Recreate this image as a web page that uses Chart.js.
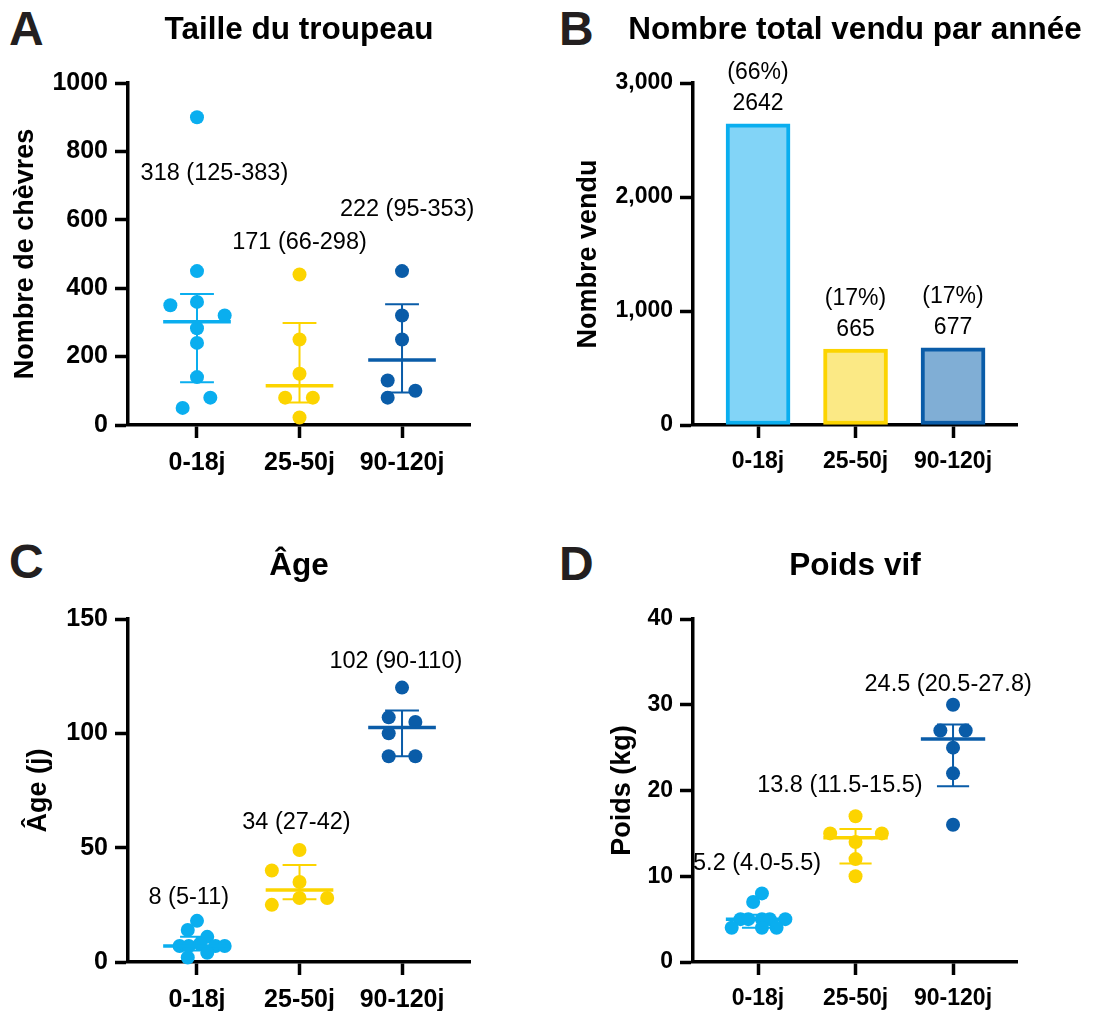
<!DOCTYPE html>
<html>
<head>
<meta charset="utf-8">
<script src="https://cdn.jsdelivr.net/npm/chart.js@4.4.1/dist/chart.umd.min.js"></script>
<style>
  html, body { margin: 0; padding: 0; background: #fff; }
  body { width: 1109px; height: 1011px; overflow: hidden; position: relative; font-family: "Liberation Sans", Arial, Helvetica, sans-serif; }
  .panel { position: absolute; }
  .letter { position: absolute; font-weight: bold; font-size: 48px; line-height: 48px; color: #231f20; }
</style>
</head>
<body>
<div class="letter" style="left:9px;top:5px">A</div>
<div class="letter" style="left:559px;top:5px">B</div>
<div class="letter" style="left:9px;top:538px">C</div>
<div class="letter" style="left:559px;top:540px">D</div>

<canvas id="cA" class="panel" width="500" height="500" style="left:0;top:0"></canvas>
<canvas id="cB" class="panel" width="554" height="500" style="left:555px;top:0"></canvas>
<canvas id="cC" class="panel" width="500" height="491" style="left:0;top:520px"></canvas>
<canvas id="cD" class="panel" width="554" height="491" style="left:555px;top:520px"></canvas>

<script>
// ---------------- DATA ----------------
const categories = ['0-18j', '25-50j', '90-120j'];

// A : Taille du troupeau (nombre de chèvres)
const herdValues = [
  [900, 450, 350, 360, 320, 283, 240, 140, 80, 50],
  [440, 250, 150, 80, 80, 22],
  [450, 320, 250, 130, 100, 80]
];
const herdJitter = [
  [0, 0, -0.26, 0, 0.27, 0, 0, 0, 0.13, -0.14],
  [0, 0, 0, -0.14, 0.13, 0],
  [0, 0, 0, -0.14, 0.13, -0.14]
];
const herdMedian = [302, 115, 190];
const herdLow = [125, 66, 95];
const herdHigh = [383, 298, 353];
const herdLabels = ['318 (125-383)', '171 (66-298)', '222 (95-353)'];
const herdTicks = [0, 200, 400, 600, 800, 1000];

// B : Nombre total vendu par année
const soldValues = [2642, 665, 677];
const soldPercent = ['(66%)', '(17%)', '(17%)'];
const soldTicks = [0, 1000, 2000, 3000];

// C : Âge (j)
const ageValues = [
  [18, 14, 11, 7, 7, 8, 7, 7, 4, 2],
  [49, 40, 35, 28, 28, 25],
  [120, 107, 105, 100, 90, 90]
];
const ageJitter = [
  [0, -0.09, 0.1, -0.17, -0.08, 0.03, 0.18, 0.27, 0.1, -0.09],
  [0, -0.27, 0, 0, 0.27, -0.27],
  [0, -0.13, 0.13, -0.13, -0.13, 0.13]
];
const ageMedian = [7, 31.5, 102.5];
const ageLow = [5, 27.4, 90];
const ageHigh = [11, 42.4, 110];
const ageLabels = ['8 (5-11)', '34 (27-42)', '102 (90-110)'];
const ageTicks = [0, 50, 100, 150];

// D : Poids vif (kg)
const weightValues = [
  [8, 7, 5, 4, 5, 5, 5, 4, 4, 5],
  [17, 15, 15, 14, 12, 10],
  [30, 27, 27, 25, 22, 16]
];
const weightJitter = [
  [0.04, -0.05, -0.18, -0.27, 0.04, 0.12, 0.28, 0.04, 0.19, -0.1],
  [0, -0.26, 0.27, 0, 0, 0],
  [0, -0.13, 0.13, 0, 0, 0]
];
const weightMedian = [5, 14.5, 26];
const weightLow = [4.0, 11.5, 20.5];
const weightHigh = [5.5, 15.5, 27.7];
const weightLabels = ['5.2 (4.0-5.5)', '13.8 (11.5-15.5)', '24.5 (20.5-27.8)'];
const weightTicks = [0, 10, 20, 30, 40];

// ---------------- STYLE / LAYOUT ----------------
const FONT = '"Liberation Sans", Arial, Helvetica, sans-serif';
Chart.defaults.font.family = FONT;
Chart.defaults.color = '#000';
const COLORS = ['#0AAEEF', '#FCD400', '#0A5CA8'];
const BAR_FILL = ['#82D4F7', '#FBE985', '#80AED5'];
const BAR_BORDER = ['#0AAEEF', '#FCD400', '#0A5CA8'];
const MED_HALF = 0.33, CAP_HALF = 0.165;

// label anchor positions (category offset, value) for the summary texts
const herdLabelPos = [[0.17, 734], [0, 535], [0.05, 629]];
const ageLabelPos = [[-0.08, 28], [-0.03, 60.8], [-0.06, 131.6]];
const weightLabelPos = [[-0.01, 11.5], [-0.16, 20.6], [-0.05, 32.4]];

function titlePlugin(text) {
  return {
    id: 'panelTitle',
    afterDraw(chart) {
      const {ctx, chartArea} = chart;
      ctx.save();
      ctx.font = 'bold 31.5px ' + FONT;
      ctx.fillStyle = '#000';
      ctx.textAlign = 'center';
      ctx.textBaseline = 'alphabetic';
      ctx.fillText(text, (chartArea.left + chartArea.right) / 2, chartArea.top - 44);
      ctx.restore();
    }
  };
}

function summaryPlugin(median, low, high, labels, labelPos) {
  return {
    id: 'summary',
    afterDatasetsDraw(chart) {
      const {ctx} = chart;
      const x = chart.scales.x, y = chart.scales.y;
      ctx.save();
      ctx.lineCap = 'butt';
      for (let i = 0; i < median.length; i++) {
        ctx.strokeStyle = COLORS[i];
        const cx = x.getPixelForValue(i);
        const yl = y.getPixelForValue(low[i]);
        const yh = y.getPixelForValue(high[i]);
        const ym = y.getPixelForValue(median[i]);
        ctx.lineWidth = 2;
        ctx.beginPath();
        ctx.moveTo(cx, yl); ctx.lineTo(cx, yh);
        ctx.moveTo(x.getPixelForValue(i - CAP_HALF), yl); ctx.lineTo(x.getPixelForValue(i + CAP_HALF), yl);
        ctx.moveTo(x.getPixelForValue(i - CAP_HALF), yh); ctx.lineTo(x.getPixelForValue(i + CAP_HALF), yh);
        ctx.stroke();
        ctx.lineWidth = 3.5;
        ctx.beginPath();
        ctx.moveTo(x.getPixelForValue(i - MED_HALF), ym); ctx.lineTo(x.getPixelForValue(i + MED_HALF), ym);
        ctx.stroke();
      }
      ctx.font = '23.5px ' + FONT;
      ctx.fillStyle = '#000';
      ctx.textAlign = 'center';
      ctx.textBaseline = 'middle';
      for (let i = 0; i < labels.length; i++) {
        ctx.fillText(labels[i], x.getPixelForValue(i + labelPos[i][0]), y.getPixelForValue(labelPos[i][1]));
      }
      ctx.restore();
    }
  };
}

function barLabelPlugin(values, pct) {
  return {
    id: 'barLabels',
    afterDatasetsDraw(chart) {
      const {ctx} = chart;
      const x = chart.scales.x, y = chart.scales.y;
      ctx.save();
      ctx.font = '23px ' + FONT;
      ctx.fillStyle = '#000';
      ctx.textAlign = 'center';
      ctx.textBaseline = 'middle';
      values.forEach((v, i) => {
        const px = x.getPixelForValue(i), top = y.getPixelForValue(v);
        ctx.fillText(String(v), px, top - 20);
        ctx.fillText(pct[i], px, top - 51);
      });
      ctx.restore();
    }
  };
}

function makeScales(o) {
  return {
    x: {
      type: 'linear', min: o.xmin, max: o.xmax, offset: false,
      afterBuildTicks: s => { s.ticks = categories.map((c, i) => ({value: i})); },
      afterFit: s => { s.height = o.xh; },
      ticks: {
        callback: v => categories[v],
        font: {size: o.tickSize, weight: 'bold'}, color: '#000',
        padding: 10, maxRotation: 0, autoSkip: false
      },
      grid: {offset: false, drawOnChartArea: false, drawTicks: true, tickLength: 13, tickWidth: 3.5, tickColor: '#000'},
      border: {display: true, color: '#000', width: 3.5}
    },
    y: {
      type: 'linear', min: o.ticks[0], max: o.ticks[o.ticks.length - 1],
      afterBuildTicks: s => { s.ticks = o.ticks.map(v => ({value: v})); },
      afterFit: s => { s.width = o.yw; },
      ticks: {
        callback: o.fmt,
        font: {size: o.tickSize, weight: 'bold'}, color: '#000', padding: 7
      },
      grid: {drawOnChartArea: false, drawTicks: true, tickLength: 13, tickWidth: 3.5, tickColor: '#000'},
      border: {display: true, color: '#000', width: 3.5},
      title: {display: true, text: o.ytitle, font: {size: 27, weight: 'bold'}, color: '#000', padding: {top: o.ytPad, bottom: 0}}
    }
  };
}

function scatterDatasets(values, jitter) {
  return values.map((vals, i) => ({
    data: vals.map((v, k) => ({x: i + jitter[i][k], y: v})),
    backgroundColor: COLORS[i],
    borderWidth: 0,
    pointRadius: 7,
    pointHoverRadius: 7,
    clip: false,
    showLine: false
  }));
}

const common = {
  responsive: false,
  animation: false,
  events: [],
  plugins: {legend: {display: false}, tooltip: {enabled: false}, title: {display: false}}
};

// Panel A
new Chart(document.getElementById('cA'), {
  type: 'scatter',
  data: {datasets: scatterDatasets(herdValues, herdJitter)},
  options: Object.assign({}, common, {
    layout: {padding: {left: 0, top: 83, right: 30, bottom: 0}},
    scales: makeScales({xmin: -0.673, xmax: 2.663, xh: 75, yw: 128, ticks: herdTicks,
      fmt: v => String(v), tickSize: 25, ytitle: 'Nombre de chèvres', ytPad: 9})
  }),
  plugins: [titlePlugin('Taille du troupeau'), summaryPlugin(herdMedian, herdLow, herdHigh, herdLabels, herdLabelPos)]
});

// Panel B
new Chart(document.getElementById('cB'), {
  type: 'bar',
  data: {datasets: [{
    data: soldValues.map((v, i) => ({x: i, y: v})),
    backgroundColor: BAR_FILL,
    borderColor: BAR_BORDER,
    borderWidth: 4,
    borderSkipped: false,
    barThickness: 64,
    clip: false
  }]},
  options: Object.assign({}, common, {
    layout: {padding: {left: 0, top: 83, right: 92, bottom: 0}},
    scales: makeScales({xmin: -0.667, xmax: 2.656, xh: 75, yw: 138, ticks: soldTicks,
      fmt: v => v.toLocaleString('en-US'), tickSize: 23, ytitle: 'Nombre vendu', ytPad: 17})
  }),
  plugins: [titlePlugin('Nombre total vendu par année'), barLabelPlugin(soldValues, soldPercent)]
});

// Panel C
new Chart(document.getElementById('cC'), {
  type: 'scatter',
  data: {datasets: scatterDatasets(ageValues, ageJitter)},
  options: Object.assign({}, common, {
    layout: {padding: {left: 0, top: 99, right: 30, bottom: 0}},
    scales: makeScales({xmin: -0.673, xmax: 2.663, xh: 49, yw: 128, ticks: ageTicks,
      fmt: v => String(v), tickSize: 25, ytitle: 'Âge (j)', ytPad: 22})
  }),
  plugins: [titlePlugin('Âge'), summaryPlugin(ageMedian, ageLow, ageHigh, ageLabels, ageLabelPos)]
});

// Panel D
new Chart(document.getElementById('cD'), {
  type: 'scatter',
  data: {datasets: scatterDatasets(weightValues, weightJitter)},
  options: Object.assign({}, common, {
    layout: {padding: {left: 0, top: 99, right: 92, bottom: 0}},
    scales: makeScales({xmin: -0.667, xmax: 2.656, xh: 49, yw: 138, ticks: weightTicks,
      fmt: v => String(v), tickSize: 23, ytitle: 'Poids (kg)', ytPad: 51})
  }),
  plugins: [titlePlugin('Poids vif'), summaryPlugin(weightMedian, weightLow, weightHigh, weightLabels, weightLabelPos)]
});
</script>
</body>
</html>
